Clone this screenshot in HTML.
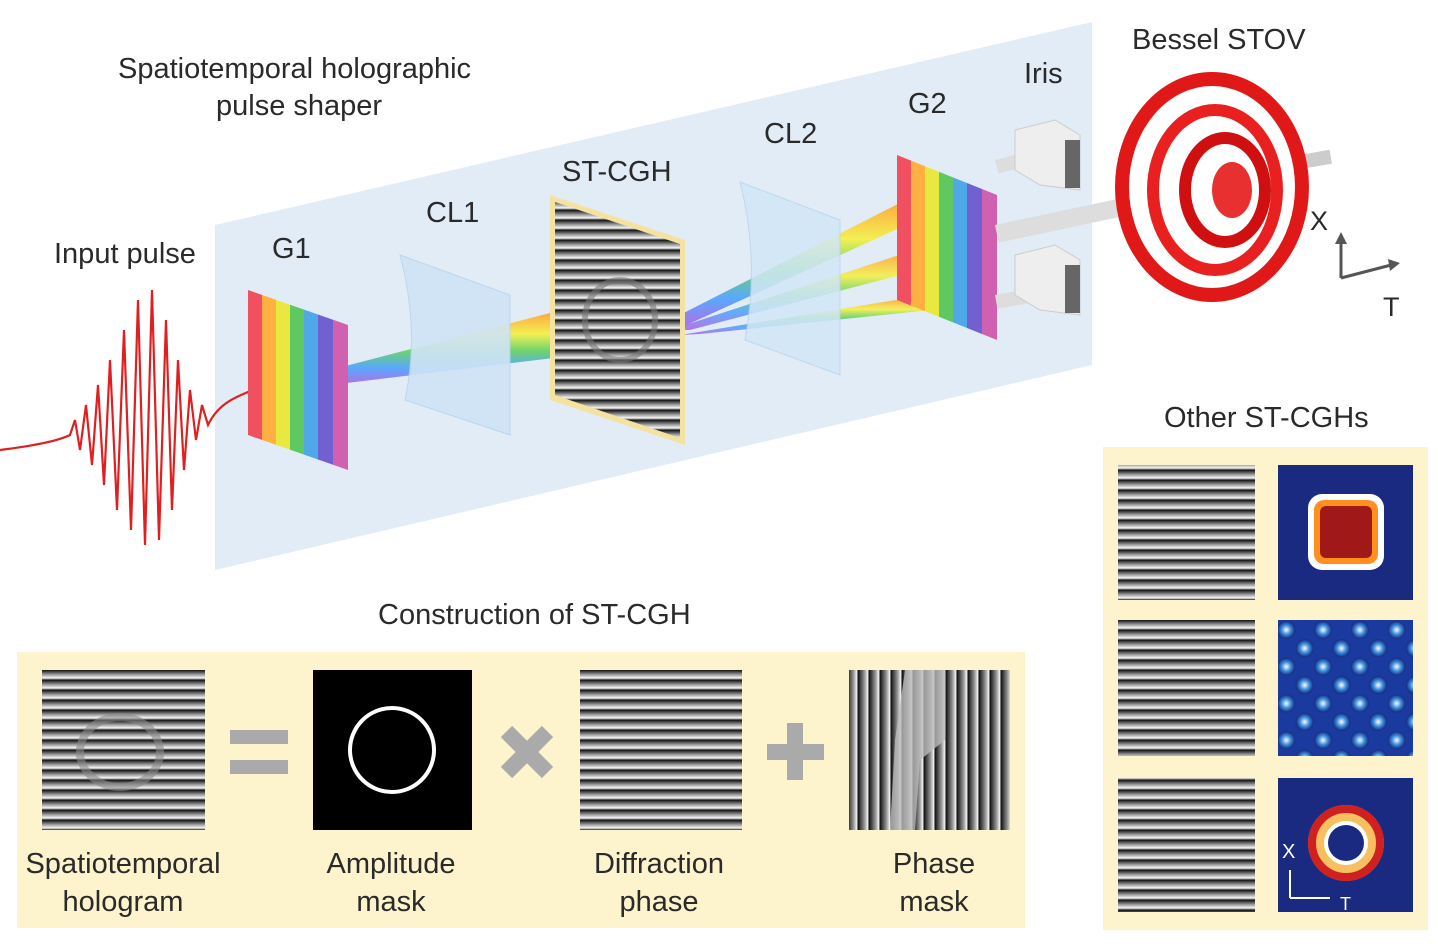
<!DOCTYPE html>
<html><head><meta charset="utf-8"><style>
html,body{margin:0;padding:0;background:#fff;}
svg{display:block;}
text{font-family:"Liberation Sans",sans-serif;fill:#2a2a2a;}
</style></head><body>
<svg width="1438" height="948" viewBox="0 0 1438 948" xmlns="http://www.w3.org/2000/svg">
<defs>
<linearGradient id="saw" x1="0" y1="0" x2="0" y2="1">
<stop offset="0" stop-color="#111"/><stop offset="0.45" stop-color="#999"/><stop offset="0.8" stop-color="#f8f8f8"/><stop offset="1" stop-color="#222"/></linearGradient>
<pattern id="hstr" width="20" height="10" patternUnits="userSpaceOnUse"><rect width="20" height="10" fill="url(#saw)"/></pattern>
<linearGradient id="sawv" x1="0" y1="0" x2="1" y2="0">
<stop offset="0" stop-color="#111"/><stop offset="0.6" stop-color="#999"/><stop offset="0.9" stop-color="#f4f4f4"/><stop offset="1" stop-color="#111"/></linearGradient>
<pattern id="vstr" width="11" height="20" patternUnits="userSpaceOnUse"><rect width="11" height="20" fill="url(#sawv)"/></pattern>
<linearGradient id="rain" x1="0" y1="0" x2="0" y2="1">
<stop offset="0" stop-color="#ff5a5a"/><stop offset="0.2" stop-color="#ffb030"/><stop offset="0.4" stop-color="#f5f040"/><stop offset="0.6" stop-color="#60d060"/><stop offset="0.8" stop-color="#4aa0ff"/><stop offset="1" stop-color="#b060e0"/></linearGradient>
<linearGradient id="grat" x1="0" y1="0" x2="1" y2="0">
<stop offset="0" stop-color="#f05060"/><stop offset="0.14" stop-color="#f05060"/><stop offset="0.14" stop-color="#ffb040"/><stop offset="0.28" stop-color="#ffb040"/><stop offset="0.28" stop-color="#e8e840"/><stop offset="0.42" stop-color="#e8e840"/><stop offset="0.42" stop-color="#60c860"/><stop offset="0.56" stop-color="#60c860"/><stop offset="0.56" stop-color="#50a8e8"/><stop offset="0.7" stop-color="#50a8e8"/><stop offset="0.7" stop-color="#7060d0"/><stop offset="0.85" stop-color="#7060d0"/><stop offset="0.85" stop-color="#d060b0"/><stop offset="1" stop-color="#d060b0"/></linearGradient>
<radialGradient id="blob" cx="0.5" cy="0.5" r="0.5"><stop offset="0" stop-color="#fff"/><stop offset="0.5" stop-color="#4090e0"/><stop offset="1" stop-color="#14287a"/></radialGradient>
<pattern id="dots" width="26" height="26" patternUnits="userSpaceOnUse" patternTransform="rotate(45 1345 690)"><rect width="26" height="26" fill="#1a3aa0"/><circle cx="13" cy="13" r="9" fill="url(#blob)"/></pattern>
</defs>

<polygon points="215,225 1092,22 1092,365 215,570" fill="#dde9f6" opacity="0.85"/>

<text x="118" y="78" font-size="29">Spatiotemporal holographic</text>
<text x="216" y="115" font-size="29">pulse shaper</text>
<text x="54" y="263" font-size="29">Input pulse</text>
<text x="272" y="258" font-size="29">G1</text>
<text x="426" y="222" font-size="29">CL1</text>
<text x="562" y="181" font-size="29">ST-CGH</text>
<text x="764" y="143" font-size="29">CL2</text>
<text x="908" y="113" font-size="29">G2</text>
<text x="1024" y="83" font-size="29">Iris</text>
<text x="1132" y="49" font-size="29">Bessel STOV</text>

<path d="M0,450 C40,445 60,440 70,435 L75,420 L80,450 L86,405 L92,465 L98,385 L104,485 L110,360 L117,510 L124,330 L131,530 L138,300 L145,545 L152,290 L159,540 L166,320 L172,510 L178,360 L184,470 L190,390 L196,440 L202,405 L208,425 C220,400 240,395 275,382" fill="none" stroke="#e02020" stroke-width="2.2"/>

<polygon points="330,370 600,300 620,350 330,385" fill="url(#rain)" opacity="0.9"/>
<polygon points="660,325 945,180 950,205 680,328" fill="url(#rain)" opacity="0.9"/>
<polygon points="670,330 945,240 950,262 690,330" fill="url(#rain)" opacity="0.85"/>
<polygon points="680,335 945,292 950,308 700,334" fill="url(#rain)" opacity="0.85"/>

<polygon points="248,290 348,325 348,470 248,435" fill="url(#grat)"/>
<path d="M400,255 L510,295 L510,435 L405,400 Q420,330 400,255Z" fill="#cfe4f6" stroke="#b8d4ee" opacity="0.9"/>
<polygon points="550,195 685,240 685,445 550,400" fill="#f4e2a0"/>
<polygon points="555,202 680,244 680,438 555,395" fill="url(#hstr)"/>
<ellipse cx="620" cy="320" rx="35" ry="40" fill="none" stroke="#777" stroke-width="6" opacity="0.6"/>
<path d="M740,182 L840,220 L840,375 L745,340 Q760,260 740,182Z" fill="#d2e7f7" stroke="#b8d4ee" opacity="0.85"/>
<polygon points="897,155 997,195 997,340 897,300" fill="url(#grat)"/>

<rect x="995" y="160" width="50" height="14" fill="#ddd" transform="rotate(-15 995 160)"/>
<rect x="995" y="225" width="130" height="18" fill="#ddd" transform="rotate(-12 995 225)"/>
<rect x="995" y="295" width="50" height="14" fill="#ddd" transform="rotate(-10 995 295)"/>
<rect x="1300" y="155" width="30" height="14" fill="#ccc" transform="rotate(-10 1300 155)"/>
<polygon points="1015,130 1055,120 1080,135 1080,190 1040,185 1015,170" fill="#eee" stroke="#ccc"/>
<rect x="1065" y="140" width="15" height="48" fill="#666"/>
<polygon points="1015,255 1055,245 1080,260 1080,315 1040,310 1015,295" fill="#eee" stroke="#ccc"/>
<rect x="1065" y="265" width="15" height="48" fill="#666"/>

<ellipse cx="1212" cy="187" rx="90" ry="108" fill="none" stroke="#e01818" stroke-width="14"/>
<ellipse cx="1215" cy="190" rx="62" ry="80" fill="none" stroke="#e82020" stroke-width="12"/>
<ellipse cx="1225" cy="190" rx="40" ry="52" fill="none" stroke="#d01010" stroke-width="12"/>
<ellipse cx="1232" cy="190" rx="20" ry="28" fill="#e83030"/>
<text x="1310" y="230" font-size="27">X</text>
<text x="1383" y="316" font-size="27">T</text>
<path d="M1341,278 L1341,240 M1341,278 L1395,264" stroke="#555" stroke-width="3"/>
<polygon points="1335,244 1341,232 1347,244" fill="#555"/>
<polygon points="1388,259 1400,263 1390,271" fill="#555"/>

<text x="378" y="624" font-size="29">Construction of ST-CGH</text>
<rect x="17" y="652" width="1008" height="276" fill="#fdf3cd"/>
<rect x="42" y="670" width="163" height="160" fill="url(#hstr)"/>
<ellipse cx="120" cy="752" rx="40" ry="35" fill="none" stroke="#888" stroke-width="8" opacity="0.6"/>
<rect x="230" y="730" width="58" height="14" fill="#aaa"/><rect x="230" y="760" width="58" height="14" fill="#aaa"/>
<rect x="313" y="670" width="159" height="160" fill="#000"/>
<circle cx="392" cy="750" r="42" fill="none" stroke="#fff" stroke-width="4"/>
<g transform="translate(527 752) rotate(45)"><rect x="-29" y="-8" width="58" height="16" fill="#aaa"/><rect x="-8" y="-29" width="16" height="58" fill="#aaa"/></g>
<rect x="580" y="670" width="162" height="160" fill="url(#hstr)"/>
<rect x="767" y="744" width="57" height="16" fill="#aaa"/><rect x="787" y="723" width="16" height="57" fill="#aaa"/>
<rect x="849" y="670" width="161" height="160" fill="url(#vstr)"/>
<path d="M905,670 L945,670 L945,740 L920,760 L915,830 L890,830 L895,740Z" fill="#bbb" opacity="0.8"/>
<g font-size="29" text-anchor="middle">
<text x="123" y="873">Spatiotemporal</text><text x="123" y="911">hologram</text>
<text x="391" y="873">Amplitude</text><text x="391" y="911">mask</text>
<text x="659" y="873">Diffraction</text><text x="659" y="911">phase</text>
<text x="934" y="873">Phase</text><text x="934" y="911">mask</text>
</g>

<text x="1164" y="427" font-size="29">Other ST-CGHs</text>
<rect x="1103" y="447" width="325" height="483" fill="#fdf3cd"/>
<rect x="1118" y="465" width="137" height="135" fill="url(#hstr)"/>
<rect x="1278" y="465" width="135" height="135" fill="#1a2a80"/>
<rect x="1308" y="494" width="76" height="76" rx="14" fill="#fff"/>
<rect x="1314" y="500" width="64" height="64" rx="10" fill="#ff9020"/>
<rect x="1320" y="506" width="52" height="52" rx="6" fill="#a01818"/>
<rect x="1118" y="620" width="137" height="136" fill="url(#hstr)"/>
<rect x="1278" y="620" width="135" height="136" fill="url(#dots)"/>
<rect x="1118" y="778" width="137" height="134" fill="url(#hstr)"/>
<rect x="1278" y="778" width="135" height="134" fill="#1a2a80"/>
<circle cx="1346" cy="843" r="38" fill="#f6c060"/>
<circle cx="1346" cy="843" r="34" fill="none" stroke="#d02020" stroke-width="8"/>
<circle cx="1346" cy="843" r="22" fill="#fff"/>
<circle cx="1346" cy="843" r="18" fill="#1a2a80"/>
<text x="1282" y="858" font-size="20" style="fill:#fff">X</text>
<text x="1340" y="910" font-size="18" style="fill:#fff">T</text>
<path d="M1290,898 L1290,870 M1290,898 L1330,898" stroke="#fff" stroke-width="2"/>
</svg>
</body></html>
